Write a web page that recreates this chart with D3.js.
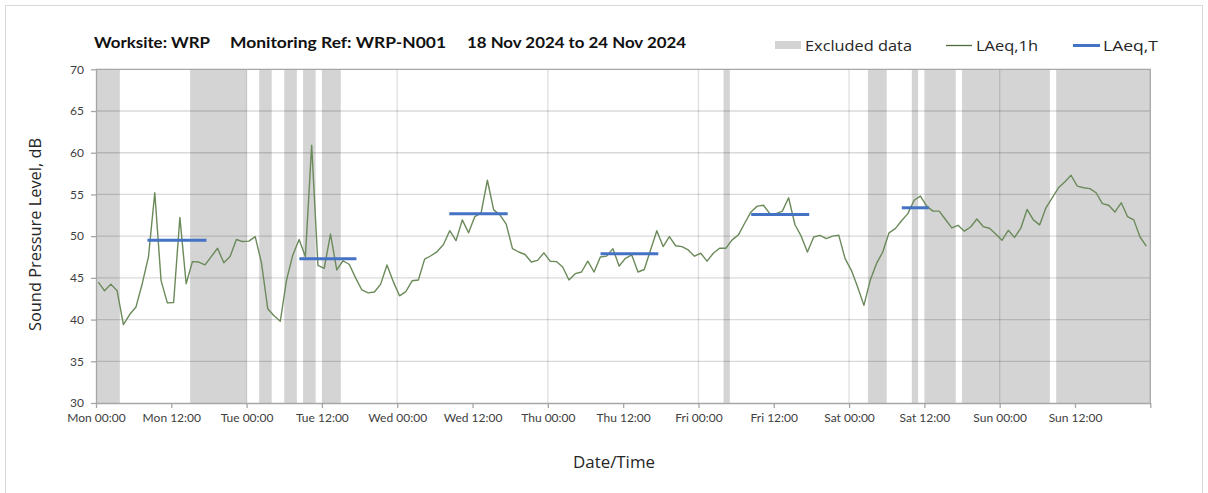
<!doctype html>
<html lang="en">
<head>
<meta charset="utf-8">
<script src="https://d3js.org/d3.v7.min.js"></script>
<style>
	body { margin: 0; background: #fff; }
	.tick text { font-family: Lato, "Open Sans", sans-serif; font-size: 12px; fill: #404040; }
	.axis path, .axis line { stroke: #a6a6a6; }
</style>
</head>
<body>
<div id="chart"></div>
<script>

	// week start and hourly LAeq,1h values (dB), Mon 18 Nov 2024 00:00 onward
	var startDate = new Date(2024, 10, 18, 0, 0);
	var laeq1h = [
		44.5, 43.45, 44.25, 43.45, 39.4, 40.6, 41.5, 44.3, 47.55, 55.2, 44.7, 42.0,
		42.05, 52.25, 44.3, 46.95, 46.9, 46.55, 47.55, 48.55, 46.8, 47.55, 49.6, 49.35,
		49.4, 49.95, 46.8, 41.3, 40.45, 39.8, 44.75, 47.75, 49.6, 47.55, 60.9, 46.5,
		46.15, 50.25, 45.95, 47.05, 46.6, 45.0, 43.55, 43.2, 43.3, 44.25, 46.55, 44.55,
		42.85, 43.35, 44.65, 44.75, 47.25, 47.65, 48.15, 49.0, 50.65, 49.45, 51.95, 50.4,
		52.35, 52.8, 56.7, 53.15, 52.55, 51.45, 48.5, 48.1, 47.8, 46.9, 47.1, 48.0,
		47.0, 46.95, 46.3, 44.75, 45.5, 45.7, 47.0, 45.7, 47.5, 47.6, 48.5, 46.4,
		47.35, 47.75, 45.7, 46.0, 48.35, 50.65, 48.75, 49.95, 48.85, 48.75, 48.35, 47.6,
		47.95, 47.0, 47.95, 48.55, 48.55, 49.55, 50.15, 51.55, 52.9, 53.6, 53.7, 52.7,
		52.7, 53.0, 54.6, 51.4, 50.0, 48.1, 49.9, 50.1, 49.7, 50.0, 50.1, 47.3,
		45.9, 43.9, 41.7, 44.7, 46.7, 48.1, 50.4, 50.9, 51.85, 52.7, 54.3, 54.8,
		53.6, 53.0, 53.0, 52.0, 51.0, 51.3, 50.6, 51.1, 52.05, 51.15, 50.95, 50.25,
		49.5, 50.7, 49.85, 50.95, 53.2, 51.95, 51.35, 53.4, 54.6, 55.8, 56.5, 57.3,
		56.0, 55.8, 55.7, 55.2, 53.9, 53.7, 52.9, 54.0, 52.35, 51.95, 49.9, 48.8
	];
	// each hourly reading is stamped a little after the hour
	var stampMinutes = 22;

	// excluded periods, hours from start
	var excludedFrom = [0, 15, 26, 30, 33, 36, 100, 123, 130, 132, 138, 153];
	var excludedTo   = [3.8, 24, 28, 32, 35, 39, 101, 126, 131, 137, 152, 168];

	// LAeq,T daytime periods, hours from start, and level (dB)
	var periodFrom = [8.2, 32.4, 56.3, 80.4, 104.4, 128.4];
	var periodTo   = [17.6, 41.5, 65.6, 89.6, 113.65, 132.7];
	var periodLevel = [49.5, 47.3, 52.7, 47.9, 52.6, 53.4];

	var yTicks = [30, 35, 40, 45, 50, 55, 60, 65, 70];

	var W = 1208, H = 493;
	var margin = {left: 96, right: 1208 - 1150.3, top: 69.3, bottom: 493 - 403};
	var width = W - margin.left - margin.right,
		height = H - margin.top - margin.bottom;

	var hour = function(h) { return new Date(startDate.getTime() + h * 3600000); };
	var endDate = hour(168);

	var svg = d3.select("#chart").append("svg")
		.attr("width", W)
		.attr("height", H);

	// outer chart frame
	svg.append("rect")
		.attr("x", 5.5).attr("y", 5.5)
		.attr("width", 1197).attr("height", 600)
		.attr("fill", "none")
		.attr("stroke", "#d9d9d9");

	var g = svg.append("g")
		.attr("transform", "translate(" + margin.left + "," + margin.top + ")");

	var x = d3.scaleTime().domain([startDate, endDate]).range([0, width]);
	var y = d3.scaleLinear().domain([30, 70]).range([height, 0]);

	// excluded data shading
	g.selectAll("rect.excl")
		.data(excludedFrom)
		.enter().append("rect")
		.attr("class", "excl")
		.attr("x", function(d) { return x(hour(d)); })
		.attr("width", function(d, i) { return x(hour(excludedTo[i])) - x(hour(d)); })
		.attr("y", 0)
		.attr("height", height)
		.attr("fill", "#d4d4d4");

	// gridlines
	g.selectAll("line.hgrid")
		.data(yTicks.slice(1, -1))
		.enter().append("line")
		.attr("x1", 0).attr("x2", width)
		.attr("y1", function(d) { return y(d); })
		.attr("y2", function(d) { return y(d); })
		.attr("stroke", "rgba(0,0,0,0.15)")
		.attr("stroke-width", 1.3);

	var days = d3.range(1, 7).map(function(d) { return hour(d * 24); });
	g.selectAll("line.vgrid")
		.data(days)
		.enter().append("line")
		.attr("y1", 0).attr("y2", height)
		.attr("x1", function(d) { return x(d); })
		.attr("x2", function(d) { return x(d); })
		.attr("stroke", "rgba(0,0,0,0.13)")
		.attr("stroke-width", 1.3);

	// plot border top/right
	g.append("path")
		.attr("d", "M0," + y(70) + "H" + width + "V" + height)
		.attr("fill", "none")
		.attr("stroke", "#a6a6a6")
		.attr("stroke-width", 1.3);

	// axes
	var xTicks = d3.range(0, 15).map(function(d) { return hour(d * 12); });
	var fmt = d3.timeFormat("%a %H:%M");
	g.append("g")
		.attr("class", "axis")
		.attr("transform", "translate(0," + height + ")")
		.call(d3.axisBottom(x)
			.tickValues(xTicks)
			.tickFormat(function(d) { return d < endDate ? fmt(d) : ""; })
			.tickSize(5)
			.tickSizeOuter(0)
			.tickPadding(5));

	g.append("g")
		.attr("class", "axis")
		.call(d3.axisLeft(y)
			.tickValues(yTicks)
			.tickSize(5)
			.tickSizeOuter(0)
			.tickPadding(7));

	g.selectAll(".axis path, .axis line").attr("stroke-width", 1.3);

	// LAeq,1h line
	var line = d3.line()
		.x(function(d, i) { return x(new Date(hour(i).getTime() + stampMinutes * 60000)); })
		.y(function(d) { return y(d); });

	g.append("path")
		.datum(laeq1h)
		.attr("d", line)
		.attr("fill", "none")
		.attr("stroke", "#6b8a5a")
		.attr("stroke-width", 1.4)
		.attr("stroke-linejoin", "round");

	// LAeq,T periods
	g.selectAll("line.period")
		.data(periodLevel)
		.enter().append("line")
		.attr("x1", function(d, i) { return x(hour(periodFrom[i])); })
		.attr("x2", function(d, i) { return x(hour(periodTo[i])); })
		.attr("y1", function(d) { return y(d); })
		.attr("y2", function(d) { return y(d); })
		.attr("stroke", "#4472c4")
		.attr("stroke-width", 3);

	// title
	var titleParts = [
		{t: "Worksite: WRP", x: 94, w: 116},
		{t: "Monitoring Ref: WRP-N001", x: 230, w: 216},
		{t: "18 Nov 2024 to 24 Nov 2024", x: 467, w: 219}
	];
	svg.selectAll("text.title")
		.data(titleParts)
		.enter().append("text")
		.attr("x", function(d) { return d.x; })
		.attr("y", 48)
		.attr("textLength", function(d) { return d.w; })
		.attr("lengthAdjust", "spacingAndGlyphs")
		.style("font-family", "Lato, 'Open Sans', sans-serif")
		.style("font-weight", "bold")
		.style("font-size", "15.5px")
		.style("fill", "#111")
		.text(function(d) { return d.t; });

	// legend
	var leg = svg.append("g").style("font-family", "'Open Sans', sans-serif").style("font-size", "15px").style("fill", "#262626");
	leg.append("rect").attr("x", 775).attr("y", 41).attr("width", 26).attr("height", 8).attr("fill", "#d4d4d4");
	leg.append("text").attr("x", 805).attr("y", 51).attr("textLength", 107).attr("lengthAdjust", "spacingAndGlyphs").text("Excluded data");
	leg.append("line").attr("x1", 946).attr("x2", 972).attr("y1", 45.5).attr("y2", 45.5).attr("stroke", "#4f6b3a").attr("stroke-width", 1.3);
	leg.append("text").attr("x", 976).attr("y", 51).attr("textLength", 62).attr("lengthAdjust", "spacingAndGlyphs").text("LAeq,1h");
	leg.append("line").attr("x1", 1073).attr("x2", 1100).attr("y1", 45.5).attr("y2", 45.5).attr("stroke", "#4472c4").attr("stroke-width", 3);
	leg.append("text").attr("x", 1103).attr("y", 51).attr("textLength", 55).attr("lengthAdjust", "spacingAndGlyphs").text("LAeq,T");

	// axis titles
	svg.append("text")
		.attr("transform", "translate(41,234.5) rotate(-90)")
		.attr("text-anchor", "middle")
		.attr("textLength", 193)
		.attr("lengthAdjust", "spacingAndGlyphs")
		.style("font-family", "'Open Sans', sans-serif")
		.style("font-size", "16px")
		.style("fill", "#262626")
		.text("Sound Pressure Level, dB");

	svg.append("text")
		.attr("x", 614)
		.attr("y", 468)
		.attr("text-anchor", "middle")
		.attr("textLength", 82)
		.attr("lengthAdjust", "spacingAndGlyphs")
		.style("font-family", "'Open Sans', sans-serif")
		.style("font-size", "16px")
		.style("fill", "#262626")
		.text("Date/Time");

</script>
</body>
</html>
